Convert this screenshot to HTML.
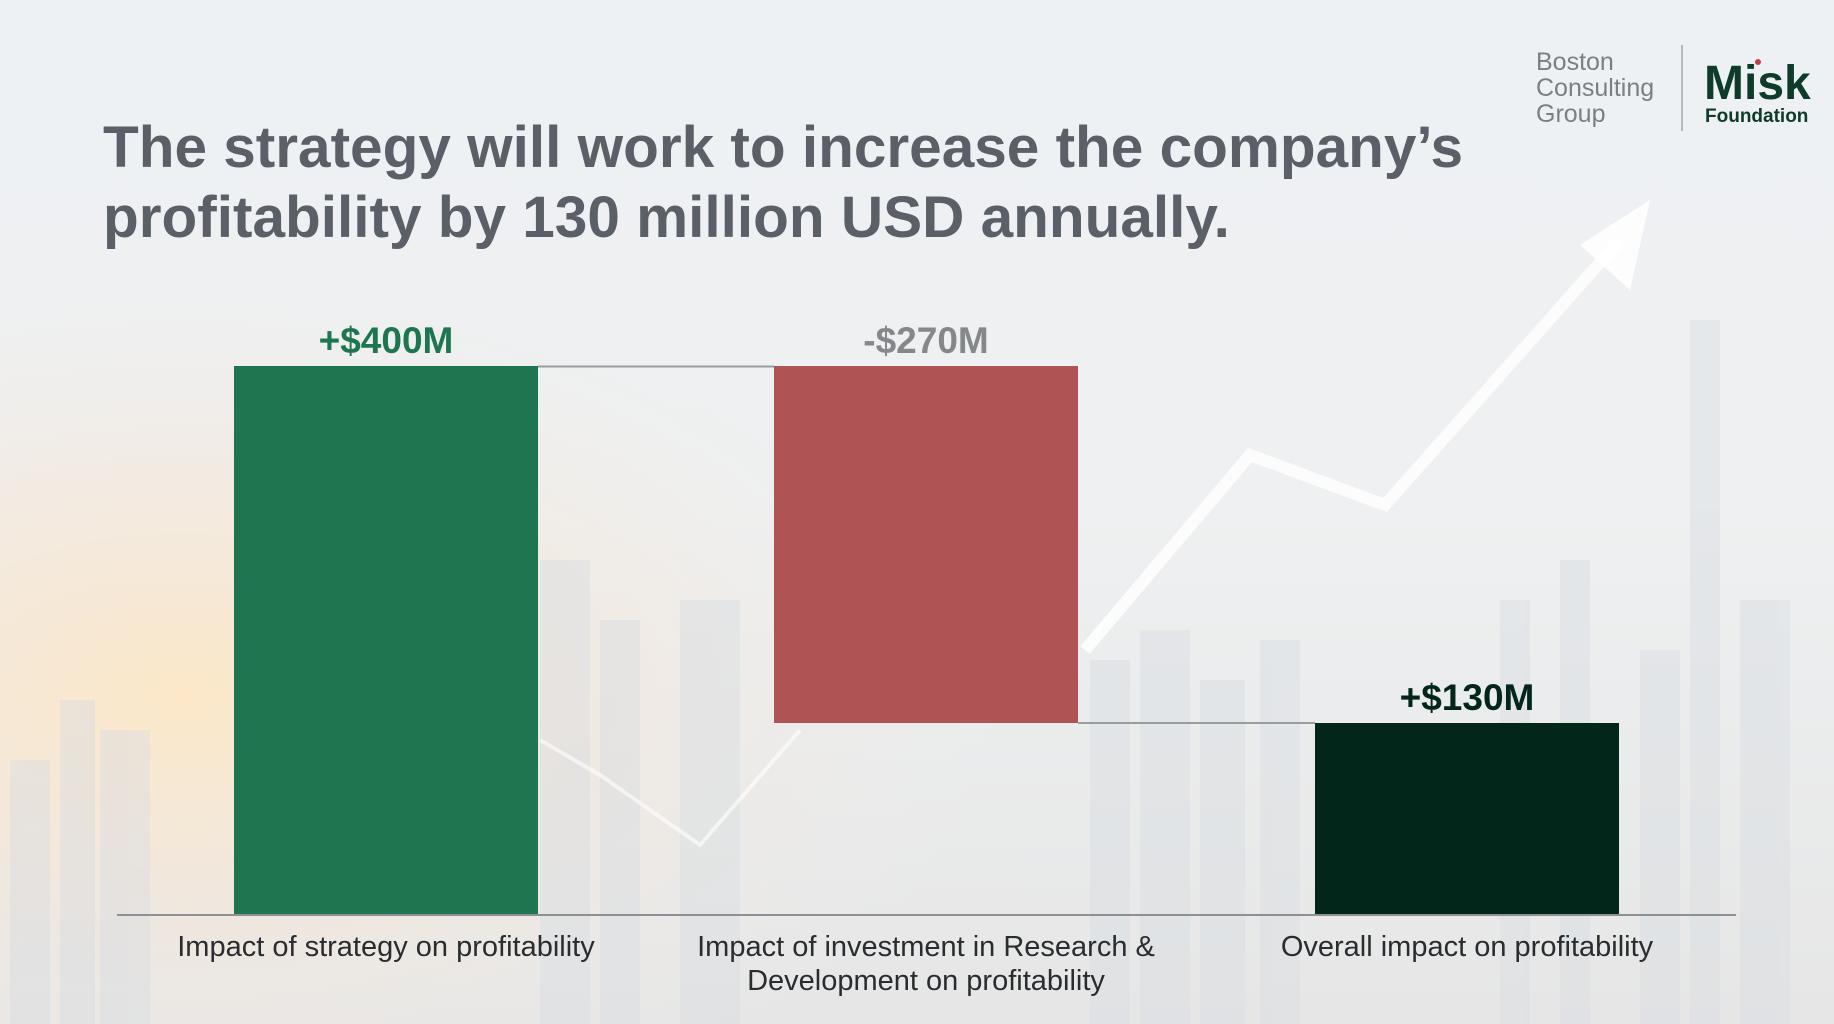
<!DOCTYPE html>
<html><head><meta charset="utf-8"><style>
html,body{margin:0;padding:0;width:1834px;height:1024px;overflow:hidden}
body{font-family:"Liberation Sans",sans-serif;}
</style></head><body>
<svg width="1834" height="1024" viewBox="0 0 1834 1024" xmlns="http://www.w3.org/2000/svg">
<defs>
<linearGradient id="bg" x1="0" y1="0" x2="0" y2="1">
<stop offset="0" stop-color="#eef1f4"/><stop offset="0.5" stop-color="#eef0f1"/><stop offset="1" stop-color="#e6e6e6"/>
</linearGradient>
<radialGradient id="sun" cx="0.1" cy="0.68" r="0.45">
<stop offset="0" stop-color="#fde7c6" stop-opacity="0.95"/><stop offset="0.5" stop-color="#f6e6d6" stop-opacity="0.5"/><stop offset="1" stop-color="#f0f0f0" stop-opacity="0"/>
</radialGradient>
</defs>
<rect width="1834" height="1024" fill="url(#bg)"/>
<rect width="1834" height="1024" fill="url(#sun)"/>
<g fill="#d9dde2" opacity="0.45">
<rect x="10" y="760" width="40" height="264"/><rect x="60" y="700" width="35" height="324"/><rect x="100" y="730" width="50" height="294"/>
<rect x="540" y="560" width="50" height="464"/><rect x="600" y="620" width="40" height="404"/><rect x="680" y="600" width="60" height="424"/>
<rect x="1090" y="660" width="40" height="364"/><rect x="1140" y="630" width="50" height="394"/><rect x="1200" y="680" width="45" height="344"/>
<rect x="1260" y="640" width="40" height="384"/><rect x="1640" y="650" width="40" height="374"/><rect x="1690" y="320" width="30" height="704"/>
<rect x="1740" y="600" width="50" height="424"/><rect x="1560" y="560" width="30" height="464"/><rect x="1500" y="600" width="30" height="424"/>
</g>
<polyline points="1085,650 1250,455 1385,505 1620,240" fill="none" stroke="#ffffff" stroke-width="12" opacity="0.8"/>
<polygon points="1650,200 1580,245 1630,290" fill="#ffffff" opacity="0.85"/>
<polyline points="540,740 600,775 700,845 800,730" fill="none" stroke="#ffffff" stroke-width="4" opacity="0.6"/>

<text x="103" y="167" font-size="58.5" font-weight="bold" fill="#5b6068">The strategy will work to increase the company’s</text>
<text x="103" y="237" font-size="58.5" font-weight="bold" fill="#5b6068">profitability by 130 million USD annually.</text>

<g font-size="25" fill="#7a7f85">
<text x="1536" y="70">Boston</text><text x="1536" y="96">Consulting</text><text x="1536" y="122">Group</text>
</g>
<rect x="1681" y="45" width="2" height="86" fill="#b5b9bd"/>
<text x="1704" y="99" font-size="48" font-weight="bold" fill="#0f3b2a">Misk</text>
<circle cx="1758" cy="62" r="3" fill="#c24040"/>
<text x="1705" y="122" font-size="19" font-weight="bold" fill="#0f3b2a">Foundation</text>

<rect x="234" y="366" width="304" height="549" fill="#1e7650"/>
<rect x="774" y="366" width="304" height="357" fill="#b05354"/>
<rect x="1315" y="723" width="304" height="192" fill="#03261a"/>
<line x1="538" y1="366.5" x2="774" y2="366.5" stroke="#9a9da0" stroke-width="2"/>
<line x1="1078" y1="723" x2="1315" y2="723" stroke="#9a9da0" stroke-width="2"/>
<line x1="117" y1="915" x2="1736" y2="915" stroke="#8d9094" stroke-width="2"/>

<g font-size="37" font-weight="bold" text-anchor="middle">
<text x="386" y="353" fill="#1e7650">+$400M</text>
<text x="926" y="353" fill="#85888b">-$270M</text>
<text x="1467" y="710" fill="#03261a">+$130M</text>
</g>
<g font-size="29" fill="#2a2d30" text-anchor="middle">
<text x="386" y="956">Impact of strategy on profitability</text>
<text x="926" y="956">Impact of investment in Research &amp;</text>
<text x="926" y="990">Development on profitability</text>
<text x="1467" y="956">Overall impact on profitability</text>
</g>
</svg>
</body></html>
